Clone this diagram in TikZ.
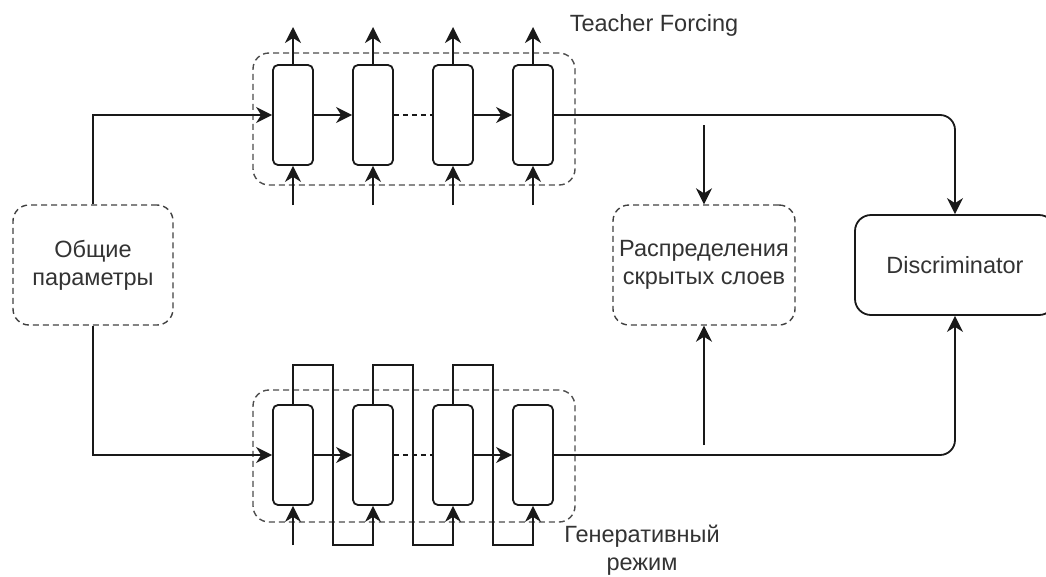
\documentclass[tikz,border=0pt]{standalone}
\usepackage{fontspec}
\setmainfont{Liberation Sans}
\usetikzlibrary{arrows.meta}

\begin{document}
\begin{tikzpicture}[x=1pt,y=-1pt,
  every node/.style={font=\fontsize{23.5}{28}\selectfont, text=black!80},
  cell/.style={draw=black!90, line width=1.8pt, rounded corners=5pt,
    minimum width=40pt, minimum height=100pt, inner sep=0pt, fill=white},
  group/.style={draw=black!70, line width=1.4pt, dash pattern=on 6pt off 4pt,
    rounded corners=16pt, inner sep=0pt},
  panel/.style={draw=black!75, line width=1.4pt, dash pattern=on 6pt off 4pt,
    rounded corners=16pt, inner sep=0pt, align=center},
  solidbox/.style={draw=black!90, line width=1.8pt, rounded corners=16pt,
    inner sep=0pt, align=center},
  wire/.style={draw=black!90, line width=1.8pt},
  arr/.style={wire, -{Stealth[length=16pt,width=16pt,inset=5pt]}},
  gap/.style={wire, dash pattern=on 5pt off 4pt}]

\useasboundingbox (0,0) rectangle (1046,576);

% recurrent chains with their dashed frames
\node[group, minimum width=322pt, minimum height=132pt] (tg) at (414,119) {};
\node[group, minimum width=322pt, minimum height=132pt] (bg) at (414,456) {};

\foreach \i/\x in {1/293,2/373,3/453,4/533}{
  \node[cell] (t\i) at (\x,115) {};
  \node[cell] (b\i) at (\x,455) {};
}

% side blocks
\node[panel, minimum width=160pt, minimum height=120pt] (par) at (93,265)
  {Общие\\параметры};
\node[panel, minimum width=182pt, minimum height=120pt] (mid) at (704,265)
  {Распределения\\скрытых слоев};
\node[solidbox, minimum width=200pt, minimum height=100pt] (disc) at (955,265)
  {Discriminator};

% captions
\node (tf) at (654,25) {Teacher Forcing};
\node[align=center] (gen) at (642,550) {Генеративный\\режим};

% shared parameters feed both chains
\draw[arr] (par.north) |- (t1.west);
\draw[arr] (par.south) |- (b1.west);

% teacher forcing chain
\foreach \i/\x in {1/293,2/373,3/453,4/533}{
  \coordinate (to\i) at (\x,27);
  \coordinate (ti\i) at (\x,205);
  \draw[arr] (t\i.north) -- (to\i);
  \draw[arr] (ti\i) -- (t\i.south);
}
\draw[arr] (t1.east) -- (t2.west);
\draw[gap] (t2.east) -- (t3.west);
\draw[arr] (t3.east) -- (t4.west);

% generative chain: each output is fed back as the next input
\coordinate (bi1) at (293,545);
\draw[arr] (bi1) -- (b1.south);
\draw[arr] (b1.north) |- (333,365) -- (333,545) -| (b2.south);
\draw[arr] (b2.north) |- (413,365) -- (413,545) -| (b3.south);
\draw[arr] (b3.north) |- (493,365) -- (493,545) -| (b4.south);
\draw[arr] (b1.east) -- (b2.west);
\draw[gap] (b2.east) -- (b3.west);
\draw[arr] (b3.east) -- (b4.west);

% both chains go to the discriminator
\draw[arr, rounded corners=15pt] (t4.east) -| (disc.north);
\draw[arr, rounded corners=15pt] (b4.east) -| (disc.south);

% hidden-layer distributions
\coordinate (hin) at (704,125);
\coordinate (hout) at (704,445);
\draw[arr] (hin) -- (mid.north);
\draw[arr] (hout) -- (mid.south);

\end{tikzpicture}
\end{document}
